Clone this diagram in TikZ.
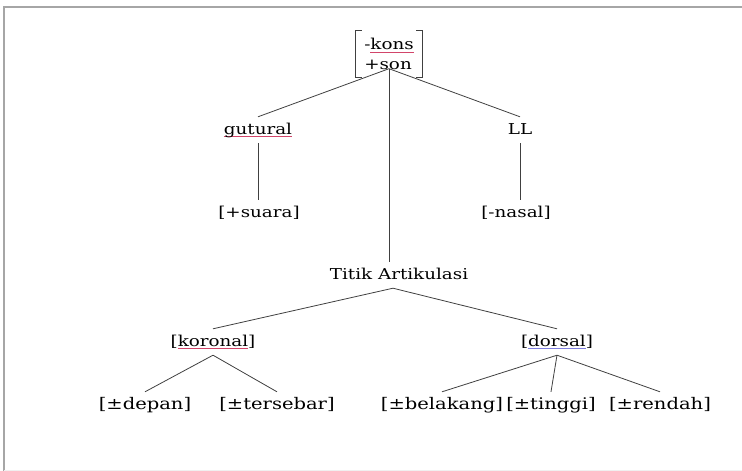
\documentclass[tikz,border=0pt]{standalone}
\usepackage{fontspec}
\setmainfont{DejaVu Serif}[FakeStretch=1.22]
\usetikzlibrary{calc}
\tikzset{>=latex}
\definecolor{spellred}{HTML}{D2456A}
\definecolor{spellblue}{HTML}{8080E0}
\newcommand{\spell}[2][spellred]{\sbox0{#2}\rlap{\textcolor{#1}{\rule[-3pt]{\wd0}{0.8pt}}}\usebox0}

\begin{document}
\begin{tikzpicture}[x=1pt, y=-1pt,
  every node/.style={font=\fontsize{15}{20}\selectfont},
  lbl/.style={text height=12pt, text depth=4pt, inner xsep=1pt, inner ysep=5pt, anchor=base},
  leaf/.style={lbl, font=\fontsize{16}{20}\selectfont},
  branch/.style={draw=black!75, line width=0.8pt}]
\useasboundingbox (0,0) rectangle (742,471);
\draw[gray!70, line width=1.5pt] (4,471) -- (4,7) -- (742,7);
\draw[gray!12, line width=1pt] (4,470) -- (742,470);

% root matrix
\node[align=left, minimum width=66pt, minimum height=47pt, inner sep=0pt] (root) at (389,54) {-\spell{kons}\\+son};
\draw[branch] ([xshift=6pt]root.north west) -- (root.north west) -- (root.south west) -- ++(6pt,0);
\draw[branch] ([xshift=-6pt]root.north east) -- (root.north east) -- (root.south east) -- ++(-6pt,0);
\coordinate (rootfoot) at ([yshift=9pt]root.south);

% features
\node[lbl] (gut) at (258,134) {\spell{gutural}};
\node[lbl] (ll) at (520,134) {LL};
\node[lbl] (suara) at (259,217) {[+suara]};
\node[lbl] (nasal) at (516,217) {[-nasal]};
\node[lbl] (titik) at (399,279) {Titik Artikulasi};
\node[lbl] (kor) at (213,346) {[\spell{koronal}]};
\node[lbl] (dor) at (557,346) {[\spell[spellblue]{dorsal}]};
\node[leaf] (depan) at (145,409) {[±depan]};
\node[leaf] (sebar) at (277,409) {[±tersebar]};
\node[leaf] (blkg) at (442,409) {[±belakang]};
\node[leaf] (tinggi) at (551,409) {[±tinggi]};
\node[leaf] (rendah) at (660,409) {[±rendah]};
\coordinate (tfoot) at ([xshift=-6pt]titik.south);

% branches
\draw[branch] (rootfoot) edge (gut.north) edge (ll.north) edge (rootfoot |- titik.north);
\draw[branch] (gut.south) -- (gut.south |- suara.north);
\draw[branch] (ll.south) -- (ll.south |- nasal.north);
\draw[branch] (tfoot) edge (kor.north) edge (dor.north);
\draw[branch] (kor.south) edge (depan.north) edge (sebar.north);
\draw[branch] (dor.south) edge (blkg.north) edge (tinggi.north) edge (rendah.north);
\end{tikzpicture}
\end{document}
